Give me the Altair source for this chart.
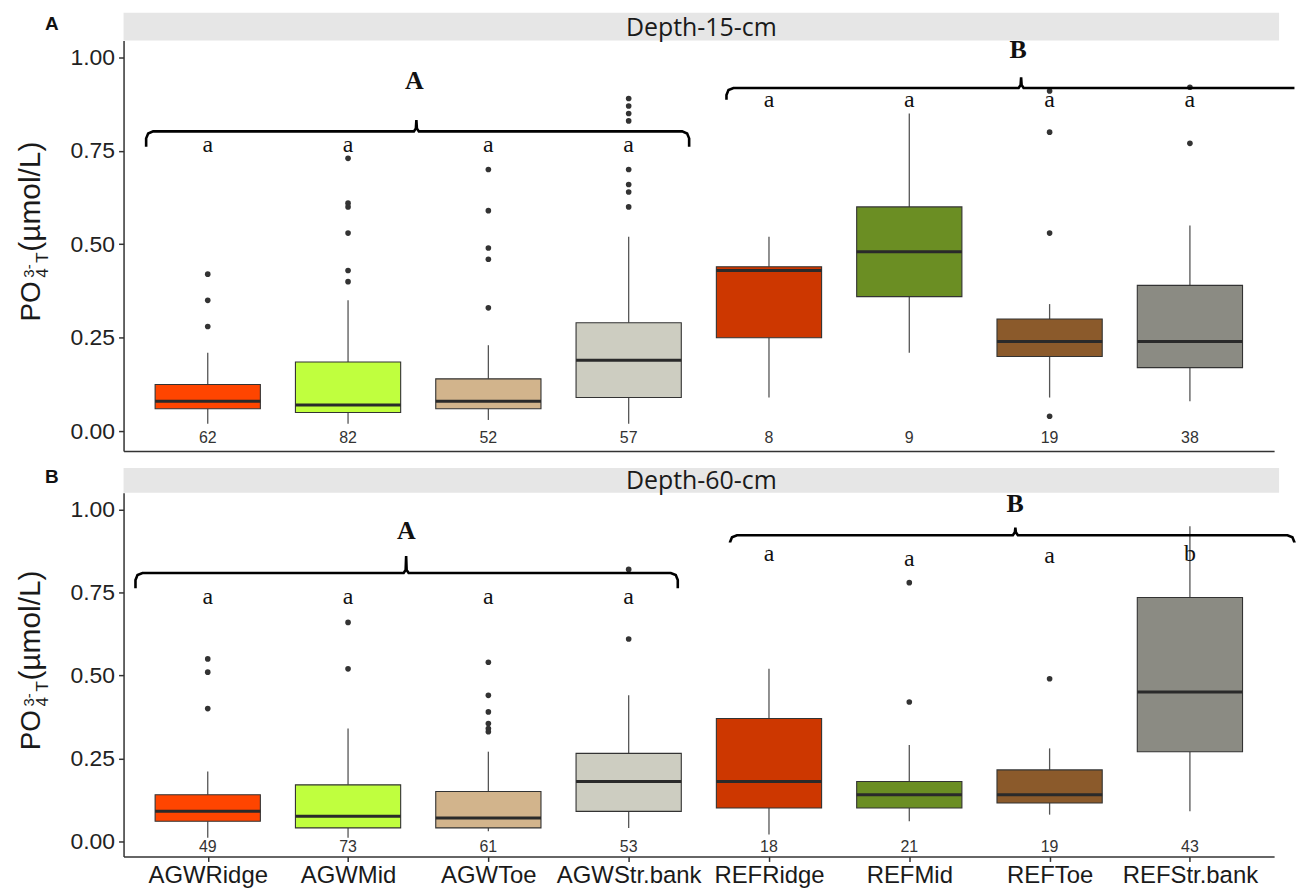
import altair as alt
import pandas as pd

# ---------------- data ----------------
categories = ["AGWRidge", "AGWMid", "AGWToe", "AGWStr.bank",
              "REFRidge", "REFMid", "REFToe", "REFStr.bank"]
fills = ["#FF4500", "#C0FF3E", "#D2B48C", "#CDCDC1",
         "#CD3700", "#6B8E23", "#8B5A2B", "#8B8B83"]

# Depth 15 cm
n15 = [62, 82, 52, 57, 8, 9, 19, 38]
lo15 = [0.02, 0.02, 0.03, 0.02, 0.09, 0.21, 0.09, 0.08]
q1_15 = [0.06, 0.05, 0.06, 0.09, 0.25, 0.36, 0.20, 0.17]
med15 = [0.08, 0.07, 0.08, 0.19, 0.43, 0.48, 0.24, 0.24]
q3_15 = [0.125, 0.185, 0.14, 0.29, 0.44, 0.60, 0.30, 0.39]
hi15 = [0.21, 0.35, 0.23, 0.52, 0.52, 0.85, 0.34, 0.55]
out15 = {0: [0.42, 0.35, 0.28],
         1: [0.73, 0.61, 0.60, 0.53, 0.43, 0.40],
         2: [0.70, 0.59, 0.49, 0.46, 0.33],
         3: [0.89, 0.87, 0.85, 0.83, 0.70, 0.66, 0.64, 0.60],
         6: [0.91, 0.80, 0.53, 0.04],
         7: [0.92, 0.77]}
letters15 = ["a", "a", "a", "a", "a", "a", "a", "a"]
letter_y15 = [0.765, 0.765, 0.765, 0.765, 0.885, 0.885, 0.885, 0.885]
groups15 = [("A", 1.473, 0.936), ("B", 5.776, 1.02)]
# bracket: x0, x1, xpip, yline, yend, ypip, right end curled
brackets15 = [(-0.439, 3.431, 1.487, 0.802, 0.761, 0.832, True),
              (3.697, 7.745, 5.797, 0.918, 0.887, 0.947, False)]

# Depth 60 cm
n60 = [49, 73, 61, 53, 18, 21, 19, 43]
lo60 = [0.01, 0.01, 0.03, 0.04, 0.02, 0.06, 0.08, 0.09]
q1_60 = [0.06, 0.04, 0.04, 0.09, 0.10, 0.10, 0.115, 0.27]
med60 = [0.09, 0.075, 0.07, 0.18, 0.18, 0.14, 0.14, 0.45]
q3_60 = [0.14, 0.17, 0.15, 0.265, 0.37, 0.18, 0.215, 0.735]
hi60 = [0.21, 0.34, 0.27, 0.44, 0.52, 0.29, 0.28, 0.95]
out60 = {0: [0.55, 0.51, 0.40],
         1: [0.66, 0.52],
         2: [0.54, 0.44, 0.39, 0.355, 0.34, 0.33],
         3: [0.82, 0.61],
         5: [0.78, 0.42],
         6: [0.49]}
letters60 = ["a", "a", "a", "a", "a", "a", "a", "b"]
letter_y60 = [0.736, 0.736, 0.736, 0.736, 0.865, 0.85, 0.86, 0.865]
groups60 = [("A", 1.416, 0.937), ("B", 5.754, 1.018)]
brackets60 = [(-0.515, 3.350, 1.414, 0.809, 0.763, 0.860, True),
              (3.722, 7.745, 5.756, 0.923, 0.901, 0.946, True)]

FONT = "Liberation Sans"
SERIF = "Liberation Serif"
W = 1155
xs = alt.Scale(domain=[-0.6, 7.6], nice=False, zero=False)


def bracket_points(b, br, ppx, ppy):
    x0, x1, xp, yl, ye, yp, curl = br
    rx = 7.0 / ppx
    ry = 7.0 / ppy
    pts = [(x0, ye), (x0, yl - ry), (x0 + 0.29 * rx, yl - 0.29 * ry), (x0 + rx, yl),
           (xp - 2.5 / ppx, yl), (xp - 0.5 / ppx, yl + 3.0 / ppy), (xp, yp),
           (xp + 0.5 / ppx, yl + 3.0 / ppy), (xp + 2.5 / ppx, yl)]
    if curl:
        pts += [(x1 - rx, yl), (x1 - 0.29 * rx, yl - 0.29 * ry), (x1, yl - ry), (x1, ye)]
    else:
        pts += [(x1, yl)]
    return [{"b": b, "k": k, "x": px, "v": py} for k, (px, py) in enumerate(pts)]


def panel(n, lo, q1, med, q3, hi, outs, letters, letter_y, groups, brackets,
          height, ydom, strip_text, strip_h, panel_letter, bottom, top_anchor):
    box = pd.DataFrame({"i": list(range(8)), "cat": categories, "fill": fills,
                        "lo": lo, "q1": q1, "med": med, "q3": q3, "hi": hi,
                        "n": [str(v) for v in n], "lab": letters, "ly": letter_y})
    outdf = pd.DataFrame([{"i": i, "v": v} for i, vals in outs.items() for v in vals])
    grp = pd.DataFrame([{"t": t, "x": x, "v": v} for t, x, v in groups])
    ppx = W / 8.2
    ppy = height / (ydom[1] - ydom[0])
    brk = pd.DataFrame([p for b, br in enumerate(brackets) for p in bracket_points(b, br, ppx, ppy)])
    one = pd.DataFrame({"z": [0]})

    ys = alt.Scale(domain=ydom, nice=False, zero=False)
    yaxis = alt.Axis(values=[0, 0.25, 0.5, 0.75, 1.0], format=".2f", labelFontSize=23,
                     labelFont=FONT, labelColor="#222222", tickSize=5, tickColor="#333333",
                     tickWidth=1.5, domainColor="#333333", domainWidth=1.5, grid=False,
                     title=None, labelPadding=4)
    if bottom:
        arr = "[" + ",".join("'%s'" % c for c in categories) + "]"
        xaxis = alt.Axis(values=list(range(8)), labelExpr=arr + "[datum.value]",
                         labelFontSize=24, labelFont=FONT, labelColor="#1a1a1a",
                         tickSize=5, tickColor="#333333", tickWidth=1.5,
                         domainColor="#333333", domainWidth=1.5, grid=False,
                         title=None, labelPadding=2)
    else:
        xaxis = alt.Axis(labels=False, ticks=False, domain=True, domainColor="#333333",
                         domainWidth=1.5, grid=False, title=None)

    X = lambda f: alt.X(f, scale=xs, axis=xaxis, title=None)
    Y = lambda f: alt.Y(f, scale=ys, axis=yaxis, title=None)

    base = alt.Chart(box)
    whisk_hi = base.mark_rule(color="#555555", strokeWidth=1.3).encode(
        x=X("i:Q"), y=Y("q3:Q"), y2="hi:Q")
    whisk_lo = base.mark_rule(color="#555555", strokeWidth=1.3).encode(
        x=X("i:Q"), y=Y("lo:Q"), y2="q1:Q")
    boxes = base.transform_calculate(xl="datum.i - 0.375", xr="datum.i + 0.375").mark_bar(
        stroke="#333333", strokeWidth=1.1).encode(
        x=X("xl:Q"), x2="xr:Q", y=Y("q1:Q"), y2="q3:Q",
        color=alt.Color("fill:N", scale=None))
    medians = base.transform_calculate(xl="datum.i - 0.375", xr="datum.i + 0.375").mark_rule(
        color="#2a2a2a", strokeWidth=3).encode(x=X("xl:Q"), x2="xr:Q", y=Y("med:Q"))
    points = alt.Chart(outdf).mark_circle(size=32, color="#333333", opacity=1).encode(
        x=X("i:Q"), y=Y("v:Q"))
    counts = base.mark_text(fontSize=16, font=FONT, color="#333333", baseline="middle").encode(
        x=X("i:Q"), y=alt.datum(-0.018), text="n:N")
    lets = base.mark_text(fontSize=24, font=SERIF, color="#111111", baseline="middle").encode(
        x=X("i:Q"), y=Y("ly:Q"), text="lab:N")
    glets = alt.Chart(grp).mark_text(fontSize=26, font=SERIF, fontWeight="bold",
                                     color="#111111", baseline="middle").encode(
        x=X("x:Q"), y=Y("v:Q"), text="t:N")
    brl = alt.Chart(brk).mark_line(color="#000000", strokeWidth=2.6, clip=False).encode(
        x=X("x:Q"), y=Y("v:Q"), detail="b:N", order="k:Q")

    c1 = alt.Chart(one)
    strip = c1.mark_rect(color="#E6E6E6").encode(
        x=alt.value(0), x2=alt.value(W + 5), y=alt.value(-strip_h), y2=alt.value(0))
    stext = c1.mark_text(text=strip_text, font="Open Sans", fontSize=25, color="#1a1a1a",
                         baseline="middle", align="center").encode(
        x=alt.value((W + 5) / 2), y=alt.value(-strip_h / 2 + 1))
    ay = -30 if top_anchor else 0
    anchor = c1.mark_rule(color="#FFFFFF", strokeWidth=1).encode(
        x=alt.value(-115), y=alt.value(ay), y2=alt.value(ay + 1))
    plab = c1.mark_text(text=panel_letter, font=FONT, fontSize=19, fontWeight="bold",
                        color="#111111", baseline="middle", align="center").encode(
        x=alt.value(-72), y=alt.value(-strip_h / 2 - 3))

    ty = height / 2 + 76
    tparts = [("PO", -84, 28, 0), ("4", -76, 17, -44), ("3-", -90, 15, -44),
              ("T", -76, 17, -59), ("(µmol/L)", -84, 30, -70)]
    titles = [c1.mark_text(text=t, font=FONT, fontSize=fs, color="#1a1a1a", angle=270,
                           align="left", baseline="alphabetic").encode(
        x=alt.value(px), y=alt.value(ty + dy)) for t, px, fs, dy in tparts]

    return alt.layer(strip, stext, anchor, plab, *titles, whisk_hi, whisk_lo, boxes, medians,
                     points, counts, lets, glets, brl).properties(width=W, height=height)


top = panel(n15, lo15, q1_15, med15, q3_15, hi15, out15, letters15, letter_y15, groups15,
            brackets15, 412, [-0.053, 1.045], "Depth-15-cm", 28, "A", False, True)
bot = panel(n60, lo60, q1_60, med60, q3_60, hi60, out60, letters60, letter_y60, groups60,
            brackets60, 365, [-0.046, 1.051], "Depth-60-cm", 25, "B", True, False)

chart = alt.vconcat(top, bot, spacing=17).configure_view(stroke=None).properties(
    padding=0, background="#FFFFFF")

chart.save("out.html", embed_options={"renderer": "svg", "actions": False})
